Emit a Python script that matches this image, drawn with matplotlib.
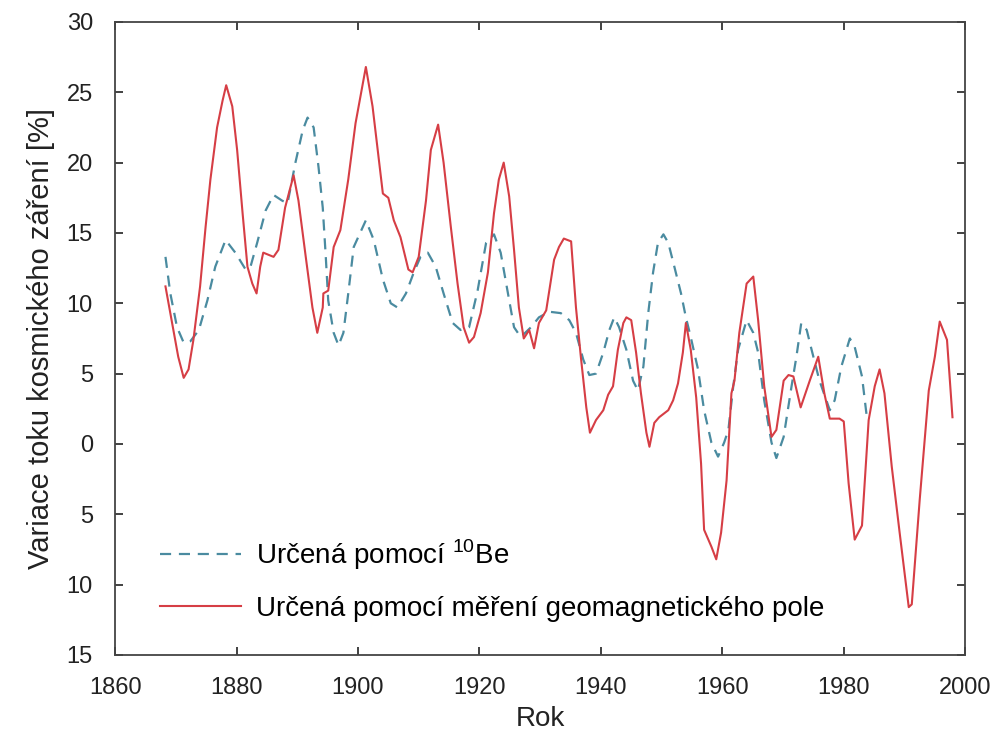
import matplotlib
matplotlib.use('Agg')
import matplotlib.pyplot as plt
from matplotlib.ticker import FuncFormatter

plt.rcParams['font.family'] = ['Liberation Sans', 'DejaVu Sans']
plt.rcParams['mathtext.fontset'] = 'custom'
plt.rcParams['mathtext.rm'] = 'Liberation Sans'

# hodnoty: rok, variace [%]
be_years = [1868.3, 1869.1, 1870.2, 1871.3, 1872.4, 1873.8, 1875.2, 1876.5, 1878.2, 1879.8,
            1881.5, 1882.3, 1883.4, 1884.8, 1886.1, 1887.5, 1888.4, 1889.7, 1890.9, 1891.7,
            1892.7, 1893.5, 1894.2, 1894.7, 1895.1, 1896.0, 1896.8, 1897.6, 1898.4, 1899.3,
            1901.3, 1902.6, 1904.1, 1905.4, 1906.5, 1907.9, 1909.2, 1910.3, 1911.5, 1912.8,
            1914.1, 1915.6, 1916.9, 1918.3, 1919.7, 1921.1, 1922.4, 1923.5, 1924.7, 1925.7,
            1926.8, 1928.5, 1929.8, 1931.5, 1933.4, 1934.8, 1935.9, 1937.1, 1938.1, 1939.2,
            1940.4, 1941.4, 1942.2, 1943.0, 1944.2, 1945.3, 1946.1, 1947.0, 1947.8, 1948.6,
            1949.4, 1950.3, 1951.1, 1952.1, 1953.2, 1954.0, 1954.8, 1956.0, 1957.0, 1958.2,
            1959.3, 1960.3, 1961.0, 1961.8, 1962.6, 1964.0, 1965.1, 1965.9, 1966.9, 1968.1,
            1968.9, 1970.1, 1971.4, 1972.2, 1973.0, 1973.9, 1974.7, 1976.0, 1977.7, 1978.5,
            1979.6, 1981.0, 1981.8, 1983.0, 1983.8]
be_values = [13.3, 10.7, 8.3, 7.2, 7.3, 8.1, 10.2, 12.6, 14.5, 13.6,
             12.4, 12.6, 14.3, 16.6, 17.7, 17.3, 17.1, 20.0, 22.3, 23.2,
             22.5, 19.7, 16.8, 13.3, 10.2, 7.9, 7.0, 7.9, 10.7, 14.0,
             15.9, 14.5, 11.7, 10.0, 9.7, 10.7, 12.2, 13.3, 13.6, 12.6,
             10.7, 8.6, 8.1, 8.3, 10.9, 14.3, 14.9, 13.6, 10.7, 8.3,
             7.6, 8.3, 9.0, 9.4, 9.3, 8.8, 7.9, 6.0, 4.9, 5.0,
             6.5, 8.1, 9.0, 8.3, 6.7, 4.5, 3.8, 5.5, 9.3, 12.2,
             14.3, 14.9, 14.3, 12.6, 10.7, 9.0, 7.6, 5.3, 2.4, 0.1,
             -0.9, 0.1, 1.0, 4.1, 6.7, 8.8, 7.9, 6.5, 3.1, 0.1,
             -1.0, 0.5, 4.1, 6.2, 8.6, 8.1, 6.7, 4.5, 2.4, 3.1,
             5.5, 7.5, 6.9, 4.8, 1.9]

geo_years = [1868.3, 1869.6, 1870.4, 1871.3, 1872.1, 1872.9, 1874.0, 1874.9, 1875.7, 1876.8,
             1877.7, 1878.3, 1879.3, 1880.1, 1881.0, 1881.8, 1882.6, 1883.3, 1883.9, 1884.4,
             1886.1, 1886.9, 1888.0, 1889.4, 1890.2, 1891.4, 1892.5, 1893.3, 1894.2, 1894.3,
             1895.1, 1896.0, 1897.1, 1898.4, 1899.6, 1901.3, 1902.4, 1903.2, 1904.1, 1905.0,
             1905.9, 1907.0, 1908.3, 1909.0, 1910.0, 1911.2, 1912.0, 1913.2, 1914.1, 1915.3,
             1916.4, 1917.4, 1918.3, 1919.1, 1920.2, 1921.4, 1922.4, 1923.2, 1924.0, 1924.9,
             1925.7, 1926.5, 1927.3, 1928.2, 1929.0, 1929.8, 1931.0, 1931.5, 1932.3, 1933.1,
             1933.9, 1935.1, 1935.9, 1936.7, 1937.6, 1938.2, 1939.2, 1940.4, 1941.2, 1942.0,
             1942.8, 1943.7, 1944.2, 1945.0, 1945.8, 1946.6, 1947.5, 1948.0, 1948.8, 1949.6,
             1951.1, 1951.9, 1952.7, 1953.5, 1954.0, 1954.8, 1955.7, 1956.5, 1957.0, 1958.2,
             1959.0, 1959.8, 1960.7, 1961.5, 1962.0, 1962.8, 1964.0, 1965.1, 1965.9, 1966.9,
             1968.1, 1968.9, 1970.1, 1970.9, 1971.7, 1972.9, 1974.4, 1975.8, 1976.8, 1977.7,
             1979.3, 1980.0, 1980.8, 1981.8, 1983.0, 1984.1, 1985.1, 1985.9, 1986.7, 1987.9,
             1989.2, 1990.7, 1991.2, 1992.5, 1994.0, 1995.0, 1995.8, 1997.0, 1997.9]
geo_values = [11.2, 8.1, 6.2, 4.7, 5.3, 7.4, 11.2, 15.4, 18.8, 22.5,
              24.4, 25.5, 24.0, 20.9, 16.4, 12.6, 11.4, 10.7, 12.6, 13.6,
              13.3, 13.8, 16.8, 19.1, 17.3, 13.3, 9.7, 7.9, 9.7, 10.7,
              10.9, 14.0, 15.2, 18.8, 22.8, 26.8, 24.0, 21.1, 17.8, 17.5,
              15.9, 14.7, 12.4, 12.2, 13.3, 17.3, 20.9, 22.7, 20.0, 15.4,
              11.4, 8.3, 7.2, 7.6, 9.3, 12.2, 16.4, 18.8, 20.0, 17.6,
              13.8, 9.7, 7.5, 8.1, 6.8, 8.6, 9.5, 10.9, 13.1, 14.0,
              14.6, 14.4, 9.7, 6.2, 2.6, 0.8, 1.7, 2.4, 3.5, 4.1,
              6.7, 8.6, 9.0, 8.8, 6.5, 3.6, 0.8, -0.2, 1.5, 1.9,
              2.4, 3.1, 4.3, 6.5, 8.6, 6.7, 3.3, -1.4, -6.1, -7.3,
              -8.2, -6.3, -2.6, 3.6, 4.5, 7.9, 11.4, 11.9, 8.8, 4.1,
              0.5, 1.0, 4.5, 4.9, 4.8, 2.6, 4.5, 6.2, 3.6, 1.8,
              1.8, 1.6, -2.8, -6.8, -5.8, 1.7, 4.1, 5.3, 3.6, -1.6,
              -6.3, -11.6, -11.4, -4.0, 3.8, 6.2, 8.7, 7.4, 1.9]

fig = plt.figure(figsize=(9.92, 7.31), dpi=100)
ax = fig.add_axes([0.116, 0.104, 0.857, 0.866])

ax.plot(be_years, be_values, color='#4a8ba0', linewidth=1.6, linestyle=(0, (5, 3.5)),
        label='Určená pomocí $^{10}$Be')
ax.plot(geo_years, geo_values, color='#d63e45', linewidth=1.5,
        label='Určená pomocí měření geomagnetického pole')

ax.set_xlim(1860, 2000)
ax.set_ylim(-15, 30)
ax.set_xticks(range(1860, 2001, 20))
ax.set_yticks(range(-15, 31, 5))
# záporné hodnoty jsou v originále bez znaménka
ax.yaxis.set_major_formatter(FuncFormatter(lambda v, p: f'{abs(v):g}'))
ax.tick_params(direction='in', top=True, right=True, labelsize=17, length=6, width=1.3,
               colors='#333333', labelcolor='#222222', pad=16)
for s in ax.spines.values():
    s.set_color('#444444')
    s.set_linewidth(1.3)

ax.set_xlabel('Rok', fontsize=20, labelpad=5, color='#222222')
ax.set_ylabel('Variace toku kosmického záření [%]', fontsize=21, labelpad=8, color='#222222')

ax.legend(loc='lower left', bbox_to_anchor=(0.04, 0.035), borderaxespad=0, frameon=False,
          fontsize=20, handlelength=2.9, handletextpad=0.55, labelspacing=0.85)

fig.savefig('out.png', dpi=100)
